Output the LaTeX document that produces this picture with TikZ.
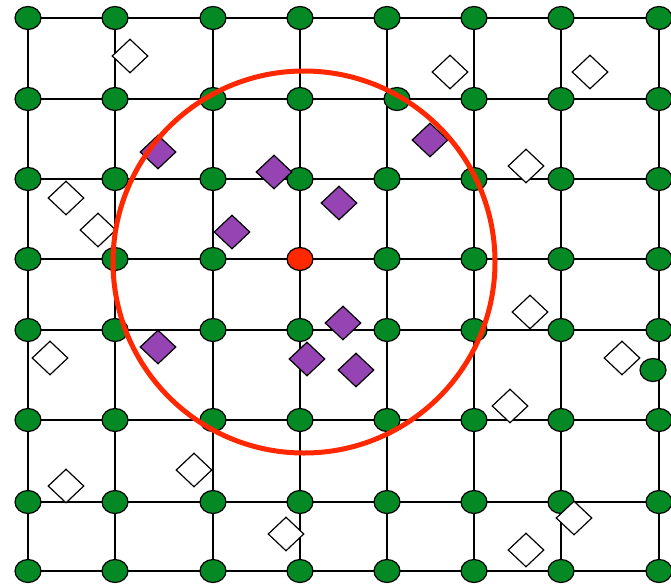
\documentclass[tikz,border=0pt]{standalone}
\usetikzlibrary{shapes.geometric}
\definecolor{nodegreen}{RGB}{4,137,36}
\definecolor{diapurple}{RGB}{150,68,180}
\definecolor{ringred}{RGB}{255,40,0}
\begin{document}
\begin{tikzpicture}[x=1pt,y=-1pt,
  gridline/.style={line width=2pt, black},
  gnode/.style={ellipse, draw=black, line width=1.2pt, fill=nodegreen, minimum width=26pt, minimum height=23pt, inner sep=0pt},
  rnode/.style={gnode, fill=ringred},
  wdia/.style={diamond, draw=black, line width=1.2pt, fill=white, minimum width=36pt, minimum height=34pt, inner sep=0pt},
  pdia/.style={wdia, fill=diapurple},
  ring/.style={draw=ringred, line width=5pt}]
\clip (0,0) rectangle (671,587);
\useasboundingbox (0,0) rectangle (671,587);
\foreach \x [count=\i] in {28,115,213,300,387,474,561,659} {
  \foreach \y [count=\j] in {18,99,179,259,330,420,502,571} {
    \coordinate (g-\i-\j) at (\x,\y);
  }
}
\foreach \i in {1,...,8} {
  \draw[gridline] (g-\i-1) -- (g-\i-8);
  \draw[gridline] (g-1-\i) -- (g-8-\i);
}
\foreach \i in {1,...,8} {
  \foreach \j in {1,...,8} {
    \pgfmathtruncatemacro\k{\i*10+\j}
    \ifnum\k=52 \else \ifnum\k=44 \else
      \node[gnode] (n-\i-\j) at (g-\i-\j) {};
    \fi\fi
  }
}
\node[gnode] (n-5-2) at (397,99) {};
\node[rnode] (n-4-4) at (g-4-4) {};
\node[gnode] (extra) at (653,370) {};
% white diamonds
\foreach \p [count=\m] in {(130,56),(450,72),(590,72),(526,166),(66,198),(98,230),(530,312),(50,358),(622,358),(510,406),(194,470),(66,486),(574,518),(286,534),(526,550)} {
  \node[wdia] (w-\m) at \p {};
}
% purple diamonds
\foreach \p [count=\m] in {(158,152),(430,140),(274,172),(339,203),(232,232),(343,323),(158,347),(307,359),(356,370)} {
  \node[pdia] (p-\m) at \p {};
}
\draw[ring] (304,262) circle [radius=191pt];
\end{tikzpicture}
\end{document}
